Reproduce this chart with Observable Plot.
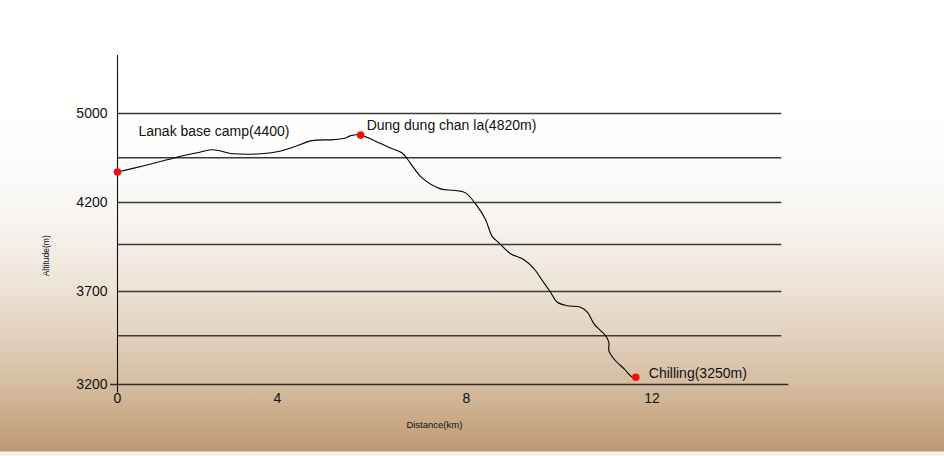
<!DOCTYPE html>
<html>
<head>
<meta charset="utf-8">
<script src="https://cdn.jsdelivr.net/npm/d3@7"></script>
<script src="https://cdn.jsdelivr.net/npm/@observablehq/plot@0.6"></script>
<style>
  html, body { margin: 0; padding: 0; }
  body {
    width: 944px; height: 456px; overflow: hidden;
    background: linear-gradient(to bottom,
      #ffffff 0%, #fefefd 30%, #f8f5f2 48%, #eee4d9 62%,
      #e2d1bd 74%, #d4bb9e 85%, #c8a784 93%, #be9a73 98.8%, #f4f0ea 99.2%, #f4f0ea 100%);
    font-family: "Liberation Sans", Arial, sans-serif;
  }
  #chart svg { display: block; background: transparent; }
</style>
</head>
<body>
<div id="chart"></div>
<script>
// Distance (km) along the trek
const distance = [0, 0.66, 1.24, 1.66, 2.08, 2.37, 2.91, 3.58, 3.99, 4.34, 4.73, 5.19, 5.44, 5.55, 5.76,
  6.04, 6.39, 6.64, 6.81, 7.06, 7.45, 7.73, 7.98, 8.23, 8.41, 8.55, 8.70, 8.95, 9.24, 9.45, 9.63,
  9.81, 9.96, 10.17, 10.46, 10.61, 10.75, 11.0, 11.07, 11.07, 11.18, 11.40, 11.58, 11.65];
// Altitude (m) as plotted
const altitude = [4473, 4529, 4582, 4621, 4652, 4673, 4636, 4636, 4654, 4697, 4755, 4764, 4779, 4800, 4805,
  4757, 4688, 4643, 4553, 4420, 4322, 4309, 4286, 4178, 4099, 4000, 3960, 3901, 3869, 3823, 3760,
  3696, 3639, 3620, 3611, 3582, 3517, 3450, 3416, 3374, 3331, 3280, 3237, 3237];

// Named places
const placeNames = ["Lanak base camp(4400)", "Dung dung chan la(4820m)", "Chilling(3250m)"];
const placeDistance = [0, 5.76, 11.65];
const placeAltitude = [4473, 4805, 3237];

// Axes
const yTickValues = [3200, 3700, 4200, 5000];
const gridAltitudes = [3450, 3700, 3950, 4200, 4600, 5000];
const xTickValues = [0, 4, 8, 12];
const yTitle = "Altitude(m)";
const xTitle = "Distance(km)";

const profile = distance.map((d, i) => ({d, a: altitude[i]}));
const places = placeNames.map((name, i) => ({name, d: placeDistance[i], a: placeAltitude[i]}));

const chart = Plot.plot({
  width: 944,
  height: 456,
  marginLeft: 117,
  marginRight: 154,
  marginTop: 55,
  marginBottom: 72,
  style: {background: "transparent", fontFamily: "Liberation Sans, Arial, sans-serif", color: "#111"},
  x: {type: "linear", domain: [0, 4, 8, 12, 15], range: [117, 277, 466, 651.5, 790.6]},
  y: {type: "linear",
      domain: [3150, 3200, 3450, 3700, 3950, 4200, 4600, 5000, 5520],
      range: [392.5, 384, 335.3, 291, 244, 202, 157.3, 113, 55]},
  marks: [
    Plot.ruleY(gridAltitudes, {x1: 0, x2: 14.8, stroke: "#3a3a3a", strokeWidth: 1.4}),
    Plot.ruleY([3200], {x1: -0.17, x2: 14.95, stroke: "#2a2a2a", strokeWidth: 1.4}),
    Plot.ruleX([0], {y1: 3150, y2: 5520, stroke: "#111", strokeWidth: 1.1}),
    Plot.axisY({ticks: yTickValues, tickSize: 0, tickPadding: 10, fontSize: 14, label: null, tickFormat: d => String(d)}),
    Plot.axisX({ticks: xTickValues, tickSize: 0, tickPadding: 9, fontSize: 14, label: null, tickFormat: d => String(d)}),
    Plot.line(profile, {x: "d", y: "a", stroke: "#000", strokeWidth: 1.1, curve: "catmull-rom"}),
    Plot.dot(places, {x: "d", y: "a", r: 3.8, fill: "#f01010", stroke: "none"}),
    Plot.text(places.slice(0, 1), {x: "d", y: "a", text: "name", textAnchor: "start", dx: 21, dy: -40, fontSize: 14, fill: "#111"}),
    Plot.text(places.slice(1, 2), {x: "d", y: "a", text: "name", textAnchor: "start", dx: 6, dy: -10, fontSize: 14, fill: "#111"}),
    Plot.text(places.slice(2, 3), {x: "d", y: "a", text: "name", textAnchor: "start", dx: 13, dy: -3.5, fontSize: 14, fill: "#111"}),
    Plot.text([yTitle], {x: [-1.775], y: [3890], text: d => d, rotate: -90, fontSize: 8.5, fill: "#111"}),
    Plot.text([xTitle], {x: [7.32], y: [3200], text: d => d, dy: 40, fontSize: 9.5, fill: "#111"})
  ]
});
document.getElementById("chart").appendChild(chart);
</script>
</body>
</html>
